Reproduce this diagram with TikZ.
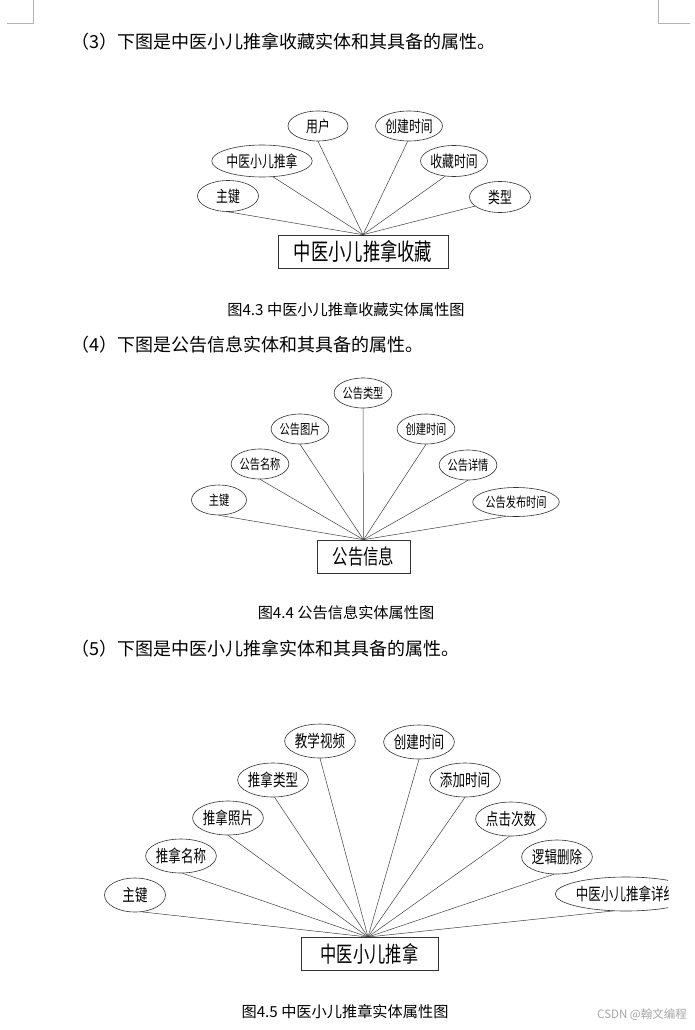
\documentclass[tikz,border=0pt]{standalone}
\usepackage{fontspec}
\usetikzlibrary{shapes.geometric}
\newfontfamily\cjk{Noto Sans CJK SC}
\newfontfamily\cjkn[FakeStretch=0.74]{Noto Sans CJK SC}
\newcommand{\fs}[1]{\fontsize{#1}{#1}\selectfont}
\tikzset{
  attr/.style={ellipse, draw=black!80, line width=0.6pt, inner sep=0pt},
  attrA/.style={attr, minimum width=61pt, minimum height=31pt, font=\cjkn\fs{16}},
  attrB/.style={attr, minimum width=55pt, minimum height=30pt, font=\cjkn\fs{13.8}},
  attrC/.style={attr, minimum width=61pt, minimum height=34pt, font=\cjkn\fs{16.9}},
  ent/.style={rectangle, draw=black!80, line width=0.6pt, inner sep=0pt},
  link/.style={draw=black!75, line width=0.5pt},
  bodytext/.style={anchor=west, inner sep=0pt, font=\cjk\fs{18}},
  captext/.style={inner sep=0pt, font=\cjk\fs{15.2}},
  cornermark/.style={draw=black!30, line width=0.6pt}
}
\begin{document}
\begin{tikzpicture}[x=1pt,y=-1pt]
\useasboundingbox (0,0) rectangle (695,1030);
\fill[white] (0,0) rectangle (695,1030);

% page corner marks
\coordinate (tl1) at (33.3,0);
\coordinate (tl2) at (33.3,23.3);
\coordinate (tl3) at (7,23.3);
\coordinate (tr1) at (658,0);
\coordinate (tr2) at (658,23.3);
\coordinate (tr3) at (690,23.3);
\draw[cornermark] (tl1) -- (tl2) -- (tl3);
\draw[cornermark] (tr1) -- (tr2) -- (tr3);

% body text
\node[bodytext] (t1) at (71,42) {（3）下图是中医小儿推拿收藏实体和其具备的属性。};
\node[bodytext] (t2) at (71,345) {（4）下图是公告信息实体和其具备的属性。};
\node[bodytext] (t3) at (71,649) {（5）下图是中医小儿推拿实体和其具备的属性。};

% ---------- diagram 1 ----------
\node[ent, minimum width=170pt, minimum height=33pt, font=\cjkn\fs{23.4}] (d1b) at (363,251.5) {中医小儿推拿收藏};
\node[attrA] (d1k) at (228,196) {主键};
\node[attrA, minimum width=81pt, minimum height=32pt] (d1a) at (262,161) {中医小儿推拿};
\node[attrA, minimum width=60pt, minimum height=30pt] (d1u) at (318,126) {用户};
\node[attrA, minimum height=30pt] (d1c) at (409,126) {创建时间};
\node[attrA] (d1s) at (454,161) {收藏时间};
\node[attrA] (d1t) at (500,197) {类型};
\draw[link] (d1k.-90) -- (d1b.north);
\draw[link] (d1a.-55) -- (d1b.north);
\draw[link] (d1u.-90) -- (d1b.north);
\draw[link] (d1c.-95) -- (d1b.north);
\draw[link] (d1s.-120) -- (d1b.north);
\draw[link] (d1t.-160) -- (d1b.north);
\node[captext] (c1) at (346,310) {图4.3 中医小儿推章收藏实体属性图};

% ---------- diagram 2 ----------
\node[ent, minimum width=93pt, minimum height=33pt, font=\cjkn\fs{20.8}] (d2b) at (363.5,556.5) {公告信息};
\node[attrB] (d2k) at (219,500) {主键};
\node[attrB] (d2n) at (260,464) {公告名称};
\node[attrB] (d2p) at (300,429) {公告图片};
\node[attrB] (d2y) at (363,393) {公告类型};
\node[attrB] (d2c) at (426,429) {创建时间};
\node[attrB] (d2d) at (468,465) {公告详情};
\node[attrB, minimum width=72pt, minimum height=29pt] (d2f) at (516,502) {公告发布时间};
\draw[link] (d2k.-90) -- (d2b.north);
\draw[link] (d2n.-90) -- (d2b.north);
\draw[link] (d2p.-90) -- (d2b.north);
\draw[link] (d2y.-90) -- (d2b.north);
\draw[link] (d2c.-90) -- (d2b.north);
\draw[link] (d2d.-90) -- (d2b.north);
\draw[link] (d2f.-125) -- (d2b.north);
\node[captext] (c2) at (346,613) {图4.4 公告信息实体属性图};

% ---------- diagram 3 ----------
\node[ent, minimum width=137pt, minimum height=33pt, font=\cjkn\fs{22}] (d3b) at (369.5,953.5) {中医小儿推拿};
\coordinate (hub3) at (368,937);
\node[attrC] (d3k) at (135,895) {主键};
\node[attrC] (d3n) at (181,856) {推拿名称};
\node[attrC] (d3p) at (228,818) {推拿照片};
\node[attrC] (d3y) at (273,780) {推拿类型};
\node[attrC] (d3v) at (320,741) {教学视频};
\node[attrC] (d3c) at (419,742) {创建时间};
\node[attrC] (d3a) at (465,780) {添加时间};
\node[attrC] (d3h) at (511,819) {点击次数};
\node[attrC] (d3l) at (557,857) {逻辑删除};
\begin{scope}
  \clip (0,0) rectangle (668,1030);
  \node[attrC, minimum width=110pt] (d3x) at (626,894) {中医小儿推拿详细};
\end{scope}
\draw[link] (d3k.-68) -- (hub3);
\draw[link] (d3n.-85) -- (hub3);
\draw[link] (d3p.-90) -- (hub3);
\draw[link] (d3y.-85) -- (hub3);
\draw[link] (d3v.-90) -- (hub3);
\draw[link] (d3c.-90) -- (hub3);
\draw[link] (d3a.-90) -- (hub3);
\draw[link] (d3h.-95) -- (hub3);
\draw[link] (d3l.-100) -- (hub3);
\draw[link] (d3x.-128) -- (hub3);
\node[captext] (c3) at (345,1012) {图4.5 中医小儿推章实体属性图};

% watermark
\node[anchor=east, inner sep=0pt, font=\cjk\fs{11.5}, text=black!35] (wm) at (687,1015) {CSDN @翰文编程};
\end{tikzpicture}
\end{document}
